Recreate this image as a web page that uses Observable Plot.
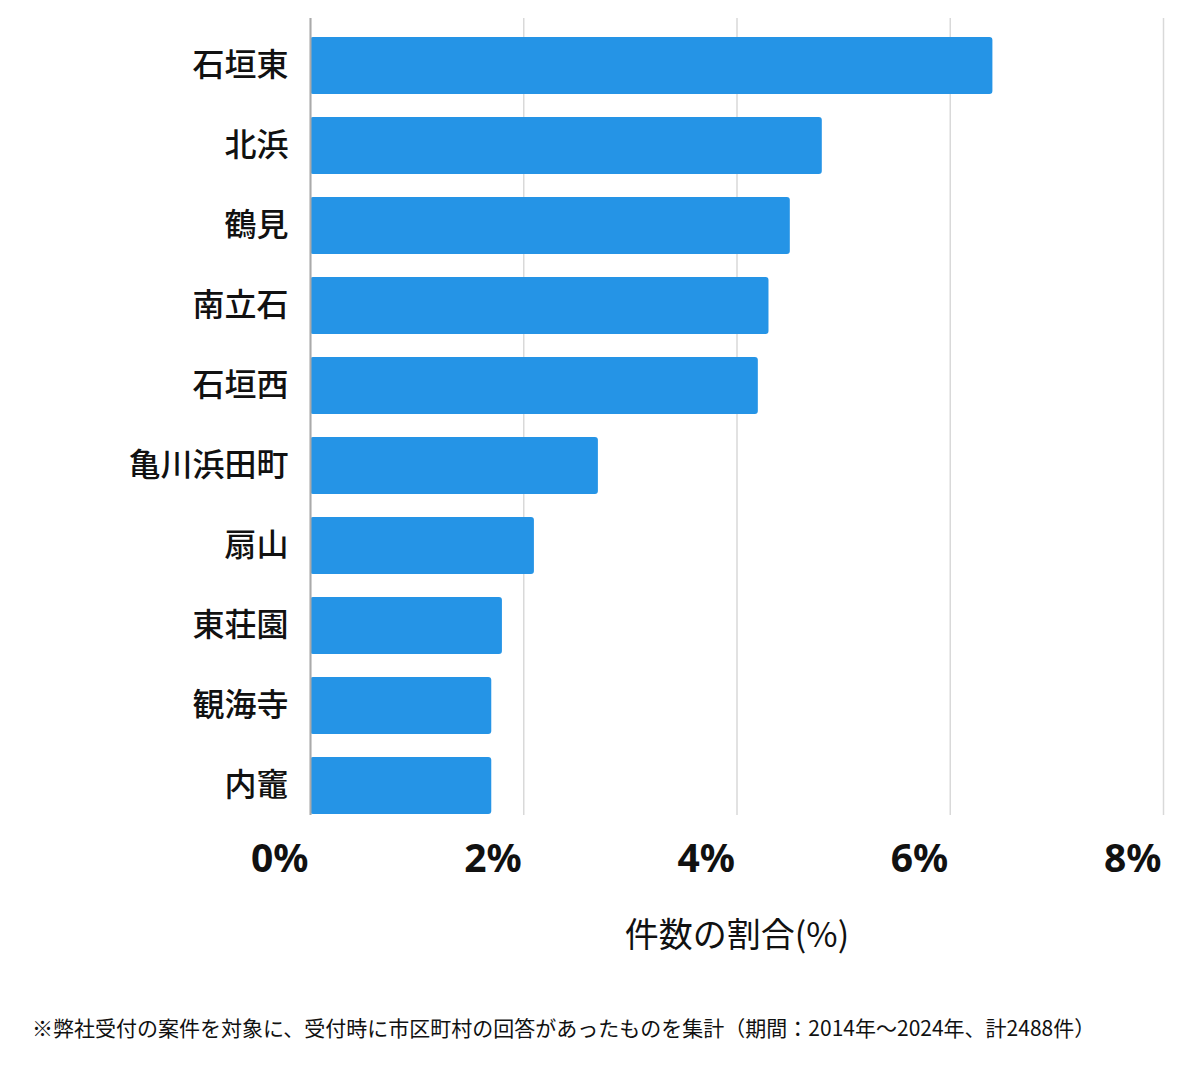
<!DOCTYPE html>
<html>
<head>
<meta charset="utf-8">
<script src="https://cdn.jsdelivr.net/npm/d3@7"></script>
<script src="https://cdn.jsdelivr.net/npm/@observablehq/plot@0.6"></script>
<style>
  html, body { margin: 0; padding: 0; background: #fff; }
  body { width: 1200px; height: 1069px; position: relative; font-family: "Noto Sans CJK JP", "Noto Sans", sans-serif; }
  #chart { position: absolute; left: 0; top: 0; }
  #caption { position: absolute; left: 32px; top: 1012px; font-size: 21px; color: #111; white-space: nowrap; }
</style>
</head>
<body>
<div id="chart"></div>
<div id="caption">※弊社受付の案件を対象に、受付時に市区町村の回答があったものを集計（期間：2014年～2024年、計2488件）</div>
<script>
const areas = ["石垣東", "北浜", "鶴見", "南立石", "石垣西", "亀川浜田町", "扇山", "東荘園", "観海寺", "内竈"];
const shares = [6.40, 4.80, 4.50, 4.30, 4.20, 2.70, 2.10, 1.80, 1.70, 1.70];
const xTicks = [0, 2, 4, 6, 8];
const xLabel = "件数の割合(%)";

const data = areas.map((a, i) => ({area: a, share: shares[i]}));

const chart = Plot.plot({
  width: 1200,
  height: 1000,
  marginLeft: 310,
  marginRight: 37,
  marginTop: 18,
  marginBottom: 185,
  style: {fontFamily: "'Noto Sans CJK JP', 'Noto Sans', sans-serif", background: "#fff", color: "#111"},
  x: {domain: [0, 8], ticks: xTicks},
  y: {domain: areas, range: [36, 815], paddingInner: 0.29, paddingOuter: 0},
  marks: [
    Plot.gridX(xTicks, {stroke: "#d9d9d9", strokeOpacity: 1, strokeWidth: 1.5}),
    Plot.barX(data, {x: "share", y: "area", fill: "#2594e6", rx: 3}),
    Plot.ruleX([0], {stroke: "#aaaaaa", strokeWidth: 2}),
    Plot.axisX(xTicks, {
      tickSize: 0, tickPadding: 29, textAnchor: "end", dx: -2, fontSize: 39, fontWeight: "bold",
      tickFormat: d => d + "%", label: null,
      fontFamily: "'Noto Sans', sans-serif"
    }),
    Plot.axisY({tickSize: 0, tickPadding: 22, fontSize: 32, fontWeight: 500, label: null}),
    Plot.text([xLabel], {frameAnchor: "bottom", dy: 131, fontSize: 34, fill: "#111"})
  ]
});
document.getElementById("chart").appendChild(chart);
</script>
</body>
</html>
